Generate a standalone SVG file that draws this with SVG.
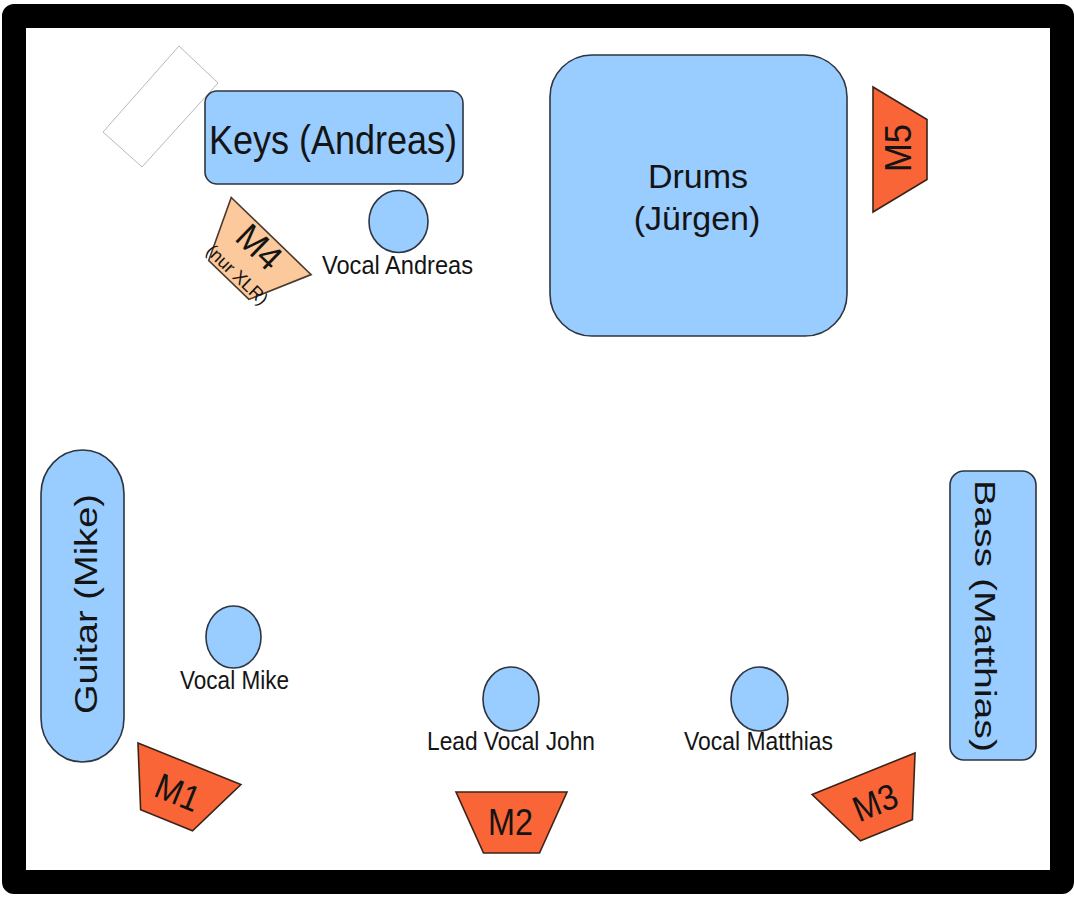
<svg xmlns="http://www.w3.org/2000/svg" width="1074" height="897" viewBox="0 0 1074 897">
<style>
text{font-family:"Liberation Sans",Arial,sans-serif;fill:#141414}
.inst{fill:#99CCFF;stroke:#2e3540;stroke-width:1.6}
.mic{fill:#FA6538;stroke:#3a2418;stroke-width:1.6}
.mic4{fill:#FBC99B;stroke:#4a3a2e;stroke-width:1.6}
.big{font-size:34px}
.voc{font-size:26px}
.mt{font-size:36px;text-anchor:middle}
</style>
<defs>
<polygon id="trap" points="-55.5,-30.5 55.5,-30.5 28,30.5 -28,30.5"/>
</defs>
<rect x="0" y="0" width="1074" height="897" fill="#ffffff"/>
<rect id="frame" x="14" y="16" width="1048" height="866" fill="#ffffff" stroke="#000000" stroke-width="24" stroke-linejoin="round"/>
<g id="connectors"/>
<g id="stand">
<polygon points="179,46 218,83 142,167 103,132" fill="#ffffff" stroke="#b8b8b8" stroke-width="1"/>
</g>
<g id="keys">
<rect class="inst" x="205" y="91" width="258" height="93" rx="12"/>
<text x="333" y="154" font-size="41" text-anchor="middle" textLength="248" lengthAdjust="spacingAndGlyphs">Keys (Andreas)</text>
</g>
<g id="vocal-andreas">
<ellipse class="inst" cx="398.5" cy="221.5" rx="29.5" ry="31"/>
<text class="voc" x="397.5" y="274" text-anchor="middle" textLength="151" lengthAdjust="spacingAndGlyphs">Vocal Andreas</text>
</g>
<g id="m4" transform="translate(250,258) rotate(44)">
<use href="#trap" class="mic4"/>
<text class="mt" x="-1" y="-2" font-size="38" textLength="48" lengthAdjust="spacingAndGlyphs">M4</text>
<text x="2.5" y="27" font-size="18" text-anchor="middle">(nur XLR)</text>
</g>
<g id="drums">
<rect class="inst" x="550" y="55" width="297" height="281" rx="42"/>
<text class="big" x="698" y="188" text-anchor="middle">Drums</text>
<text class="big" x="697" y="230" text-anchor="middle">(Jürgen)</text>
</g>
<g id="m5" transform="translate(900,149.5) rotate(-90)">
<polygon class="mic" points="-62.5,-27 62.5,-27 30,27 -30,27"/>
<text class="mt" x="1.5" y="11" textLength="48" lengthAdjust="spacingAndGlyphs">M5</text>
</g>
<g id="guitar">
<rect class="inst" x="41" y="450" width="83" height="312" rx="41.5" ry="44"/>
<text x="97" y="604" font-size="32" text-anchor="middle" transform="rotate(-90 97 604)" textLength="220" lengthAdjust="spacingAndGlyphs">Guitar (Mike)</text>
</g>
<g id="bass">
<rect class="inst" x="950" y="471" width="86" height="289" rx="14"/>
<text x="975" y="616" font-size="29" text-anchor="middle" transform="rotate(90 975 616)" textLength="272" lengthAdjust="spacingAndGlyphs">Bass (Matthias)</text>
</g>
<g id="vocal-mike">
<ellipse class="inst" cx="233.5" cy="637" rx="27.5" ry="31"/>
<text class="voc" x="234.5" y="689" text-anchor="middle" textLength="109" lengthAdjust="spacingAndGlyphs">Vocal Mike</text>
</g>
<g id="lead-vocal-john">
<ellipse class="inst" cx="511" cy="699" rx="28" ry="32"/>
<text class="voc" x="511" y="750" text-anchor="middle" textLength="168" lengthAdjust="spacingAndGlyphs">Lead Vocal John</text>
</g>
<g id="vocal-matthias">
<ellipse class="inst" cx="759.5" cy="699" rx="28.5" ry="32"/>
<text class="voc" x="758.5" y="750" text-anchor="middle" textLength="149" lengthAdjust="spacingAndGlyphs">Vocal Matthias</text>
</g>
<g id="m1" transform="translate(178,792) rotate(22)">
<use href="#trap" class="mic"/>
<text class="mt" x="0" y="13" textLength="45" lengthAdjust="spacingAndGlyphs">M1</text>
</g>
<g id="m2" transform="translate(511.5,822.5)">
<use href="#trap" class="mic"/>
<text class="mt" x="-1" y="12.5" textLength="45" lengthAdjust="spacingAndGlyphs">M2</text>
</g>
<g id="m3" transform="translate(875,802) rotate(-22)">
<use href="#trap" class="mic"/>
<text class="mt" x="0" y="13" textLength="45" lengthAdjust="spacingAndGlyphs">M3</text>
</g>
</svg>
